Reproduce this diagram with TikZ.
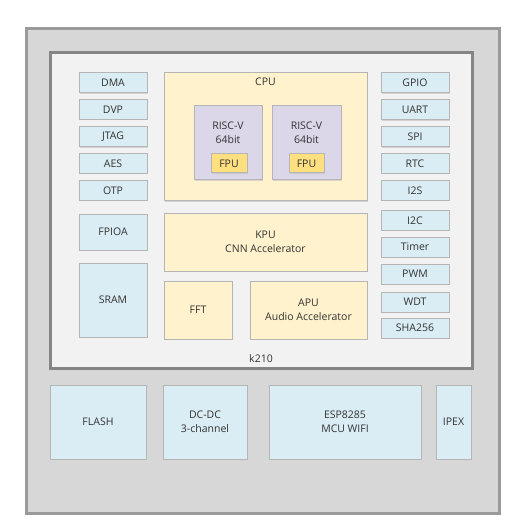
\documentclass[tikz,border=0pt]{standalone}
\usepackage{fontspec}
\setmainfont{Open Sans}
\usetikzlibrary{shadows}
\definecolor{outerfill}{HTML}{D7D7D7}
\definecolor{outerline}{HTML}{9A9A9A}
\definecolor{innerfill}{HTML}{F2F2F2}
\definecolor{innerline}{HTML}{858585}
\definecolor{bluefill}{HTML}{DAEDF4}
\definecolor{yelfill}{HTML}{FFF2CC}
\definecolor{purfill}{HTML}{DCD7E8}
\definecolor{fpufill}{HTML}{FFDF80}
\definecolor{boxline}{HTML}{B5B5B5}
\definecolor{txt}{HTML}{333333}
\tikzset{
  txtfont/.style={font=\fontsize{10.5}{14}\selectfont},
  base/.style={rectangle, draw=boxline, line width=1pt, inner sep=0pt, text=txt,
    txtfont, align=center,
    drop shadow={shadow xshift=0.8pt, shadow yshift=-0.8pt, fill=black!25, opacity=0.6}},
  bluebox/.style={base, fill=bluefill},
  yelbox/.style={base, fill=yelfill},
  purbox/.style={base, fill=purfill},
  fpubox/.style={base, fill=fpufill},
  outerbox/.style={rectangle, draw=outerline, line width=3pt, fill=outerfill, inner sep=0pt},
  innerbox/.style={rectangle, draw=innerline, line width=3pt, fill=innerfill, inner sep=0pt},
}
\begin{document}
\begin{tikzpicture}[x=1pt,y=-1pt]
\useasboundingbox (0,0) rectangle (521,529);
\fill[white] (0,0) rectangle (521,529);
\node[outerbox, minimum width=473pt, minimum height=484pt] (outer) at (262.5,271) {};
\node[innerbox, minimum width=422pt, minimum height=315pt,
  label={[anchor=south, yshift=3pt, text=txt, txtfont]south:k210}] (k210) at (261,210.5) {};
% left column
\node[bluebox, minimum width=68pt, minimum height=20pt] (dma) at (113,83) {DMA};
\node[bluebox, minimum width=68pt, minimum height=20pt] (dvp) at (113,109.5) {DVP};
\node[bluebox, minimum width=68pt, minimum height=20pt] (jtag) at (113,137) {JTAG};
\node[bluebox, minimum width=68pt, minimum height=20pt] (aes) at (113,163.5) {AES};
\node[bluebox, minimum width=68pt, minimum height=20pt] (otp) at (113,190.5) {OTP};
\node[bluebox, minimum width=68pt, minimum height=36pt] (fpioa) at (113,232) {FPIOA};
\node[bluebox, minimum width=68pt, minimum height=74pt] (sram) at (113,300) {SRAM};
% center
\node[yelbox, minimum width=203pt, minimum height=128pt,
  label={[anchor=north, yshift=-2pt, text=txt, txtfont]north:CPU}] (cpu) at (265.5,137) {};
\node[purbox, minimum width=68pt, minimum height=74pt,
  label={[anchor=north, yshift=-13pt, text=txt, align=center, txtfont]north:RISC-V\\64bit}] (risc1) at (228,143) {};
\node[purbox, minimum width=69pt, minimum height=74pt,
  label={[anchor=north, yshift=-13pt, text=txt, align=center, txtfont]north:RISC-V\\64bit}] (risc2) at (306.5,143) {};
\node[fpubox, minimum width=36pt, minimum height=19pt] (fpu1) at (229,163.5) {FPU};
\node[fpubox, minimum width=35pt, minimum height=19pt] (fpu2) at (306.5,163.5) {FPU};
\node[yelbox, minimum width=203pt, minimum height=58pt] (kpu) at (265.5,242) {KPU\\CNN Accelerator};
\node[yelbox, minimum width=68pt, minimum height=58pt] (fft) at (198,310) {FFT};
\node[yelbox, minimum width=117pt, minimum height=58pt] (apu) at (308.5,310) {APU\\Audio Accelerator};
% right column
\node[bluebox, minimum width=68pt, minimum height=20pt] (gpio) at (415,83) {GPIO};
\node[bluebox, minimum width=68pt, minimum height=20pt] (uart) at (415,110) {UART};
\node[bluebox, minimum width=68pt, minimum height=20pt] (spi) at (415,137) {SPI};
\node[bluebox, minimum width=68pt, minimum height=20pt] (rtc) at (415,163.5) {RTC};
\node[bluebox, minimum width=68pt, minimum height=20pt] (i2s) at (415,190.5) {I2S};
\node[bluebox, minimum width=68pt, minimum height=20pt] (i2c) at (415,220.5) {I2C};
\node[bluebox, minimum width=68pt, minimum height=20pt] (timer) at (415,247) {Timer};
\node[bluebox, minimum width=68pt, minimum height=20pt] (pwm) at (415,274) {PWM};
\node[bluebox, minimum width=68pt, minimum height=20pt] (wdt) at (415,302) {WDT};
\node[bluebox, minimum width=68pt, minimum height=20pt] (sha) at (415,328) {SHA256};
% bottom row
\node[bluebox, minimum width=96pt, minimum height=74pt] (flash) at (98,422) {FLASH};
\node[bluebox, minimum width=84pt, minimum height=74pt] (dcdc) at (205,422) {DC-DC\\3-channel};
\node[bluebox, minimum width=152pt, minimum height=74pt] (esp) at (345,422) {ESP8285\\MCU WIFI};
\node[bluebox, minimum width=35pt, minimum height=74pt] (ipex) at (453.5,422) {IPEX};
\end{tikzpicture}
\end{document}
